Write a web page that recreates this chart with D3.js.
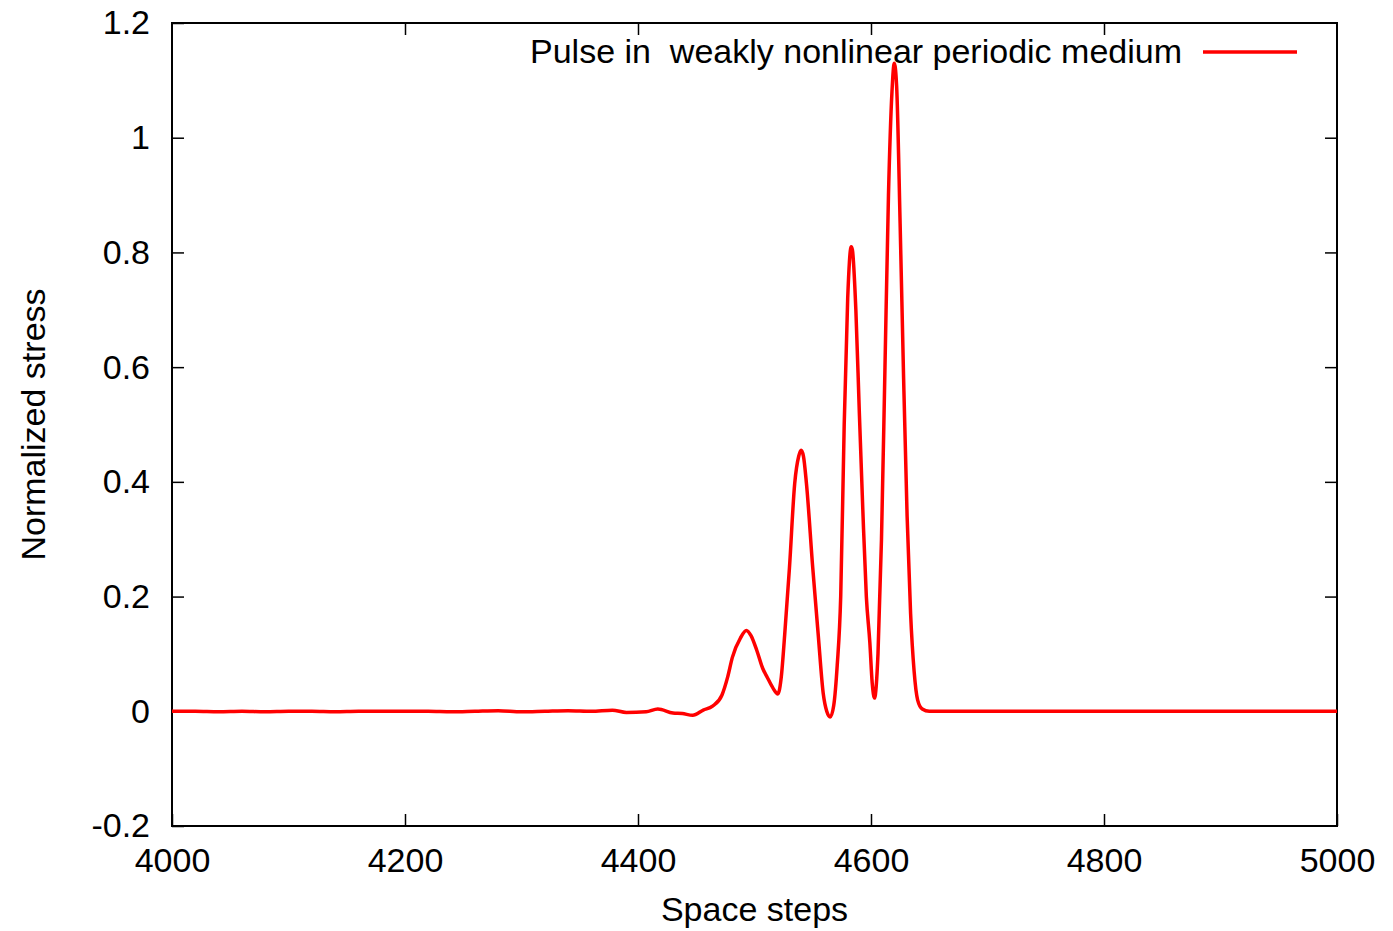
<!DOCTYPE html>
<html>
<head>
<meta charset="utf-8">
<script src="https://cdn.jsdelivr.net/npm/d3@7"></script>
<style>
  body { margin: 0; background: #fff; }
  svg { display: block; font-family: "Liberation Sans", Arial, sans-serif; }
  .axis path { display: none; }
  .axis line { stroke: #000; stroke-width: 1.5; }
  .axis text { font-size: 34px; fill: #000; font-family: "Liberation Sans", Arial, sans-serif; }
</style>
</head>
<body>
<div id="container"></div>
<script>
/* CONSTANTS AND GLOBALS */
const width = 1393,
  height = 931,
  margin = { top: 23, bottom: 105, left: 172, right: 56 }

// x and y tick values
const xTicks = [4000, 4200, 4400, 4600, 4800, 5000]
const yTicks = [-0.2, 0, 0.2, 0.4, 0.6, 0.8, 1, 1.2]

// series name
const seriesName = "Pulse in  weakly nonlinear periodic medium"

// space steps and normalized stress
const steps = [
  4000, 4020, 4040, 4060, 4080, 4100, 4120, 4140, 4160, 4180,
  4200, 4220, 4240, 4260, 4280, 4300, 4320, 4340, 4360, 4378,
  4390, 4407, 4417, 4430, 4438, 4447, 4456, 4464, 4472, 4477,
  4481, 4488, 4493, 4497, 4502, 4507, 4511, 4516, 4520, 4523,
  4526, 4530, 4534.5, 4538, 4540, 4542, 4544.6, 4550, 4554.6, 4559,
  4562, 4565, 4568, 4571, 4574, 4577, 4580, 4583, 4584, 4587,
  4590, 4593, 4596, 4599, 4601, 4603, 4606, 4609, 4612, 4615,
  4618, 4620, 4622, 4625, 4628, 4631, 4634, 4637, 4640, 4644,
  4650, 4700, 4800, 4900, 5000
]
const stress = [
  0.000, 0.000, -0.001, 0.000, -0.001, 0.000, 0.000, -0.001, 0.000, 0.000,
  0.000, 0.000, -0.001, 0.000, 0.001, -0.001, 0.000, 0.001, 0.000, 0.002,
  -0.002, -0.001, 0.004, -0.003, -0.004, -0.007, 0.002, 0.009, 0.028, 0.060,
  0.094, 0.128, 0.141, 0.132, 0.106, 0.075, 0.059, 0.040, 0.030, 0.060,
  0.136, 0.250, 0.397, 0.445, 0.455, 0.445, 0.397, 0.250, 0.136, 0.031,
  0.000, -0.010, 0.010, 0.080, 0.200, 0.500, 0.720, 0.810, 0.805, 0.700,
  0.520, 0.350, 0.200, 0.120, 0.050, 0.023, 0.100, 0.300, 0.600, 0.900,
  1.080, 1.130, 1.090, 0.850, 0.580, 0.340, 0.170, 0.070, 0.020, 0.004,
  0.000, 0.000, 0.000, 0.000, 0.000
]

const data = steps.map((s, i) => ({ step: s, value: stress[i] }))

// + SCALES
const xScale = d3.scaleLinear()
  .domain([4000, 5000])
  .range([margin.left, width - margin.right])

const yScale = d3.scaleLinear()
  .domain([-0.2, 1.2])
  .range([height - margin.bottom, margin.top])

// CREATE SVG ELEMENT
const svg = d3.select("#container")
  .append("svg")
  .attr("width", width)
  .attr("height", height)

// BUILD AND CALL AXES (ticks point inward, like gnuplot)
svg.append("g")
  .attr("class", "axis")
  .attr("transform", `translate(0, ${height - margin.bottom})`)
  .call(d3.axisBottom(xScale).tickValues(xTicks).tickSizeInner(-12).tickSizeOuter(0).tickPadding(22).tickFormat(d3.format("d")))

svg.append("g")
  .attr("class", "axis")
  .attr("transform", `translate(0, ${margin.top})`)
  .call(d3.axisTop(xScale).tickValues(xTicks.slice(1, -1)).tickSizeInner(-12).tickSizeOuter(0).tickFormat(""))

svg.append("g")
  .attr("class", "axis")
  .attr("transform", `translate(${margin.left}, 0)`)
  .call(d3.axisLeft(yScale).tickValues(yTicks).tickSizeInner(-12).tickSizeOuter(0).tickPadding(22).tickFormat(d => d3.format("")(+d.toFixed(1))))

svg.append("g")
  .attr("class", "axis")
  .attr("transform", `translate(${width - margin.right}, 0)`)
  .call(d3.axisRight(yScale).tickValues(yTicks.slice(1, -1)).tickSizeInner(-12).tickSizeOuter(0).tickFormat(""))

// fix the minus sign to a plain hyphen like the original
svg.selectAll(".axis text").text(function () { return this.textContent.replace("\u2212", "-") })

// FRAME
svg.append("rect")
  .attr("x", margin.left)
  .attr("y", margin.top)
  .attr("width", width - margin.left - margin.right)
  .attr("height", height - margin.top - margin.bottom)
  .attr("fill", "none")
  .attr("stroke", "#000")
  .attr("stroke-width", 2)

// AXIS LABELS
svg.append("text")
  .attr("x", (margin.left + width - margin.right) / 2)
  .attr("y", 921)
  .attr("text-anchor", "middle")
  .attr("font-size", 34)
  .text("Space steps")

svg.append("text")
  .attr("transform", `translate(45, ${(margin.top + height - margin.bottom) / 2}) rotate(-90)`)
  .attr("text-anchor", "middle")
  .attr("font-size", 34)
  .text("Normalized stress")

// LINE GENERATOR FUNCTION
const lineGen = d3.line()
  .x(d => xScale(d.step))
  .y(d => yScale(d.value))
  .curve(d3.curveMonotoneX)

// DRAW LINE
svg.selectAll(".line")
  .data([data])
  .join("path")
  .attr("class", "line")
  .attr("fill", "none")
  .attr("stroke", "#ff0000")
  .attr("stroke-width", 3.5)
  .attr("stroke-linejoin", "round")
  .attr("d", d => lineGen(d))

// LEGEND
svg.append("text")
  .attr("x", 1182)
  .attr("y", 63)
  .attr("text-anchor", "end")
  .attr("font-size", 34)
  .style("white-space", "pre")
  .text(seriesName)

svg.append("line")
  .attr("x1", 1203)
  .attr("x2", 1297)
  .attr("y1", 52)
  .attr("y2", 52)
  .attr("stroke", "#ff0000")
  .attr("stroke-width", 3.5)
</script>
</body>
</html>
